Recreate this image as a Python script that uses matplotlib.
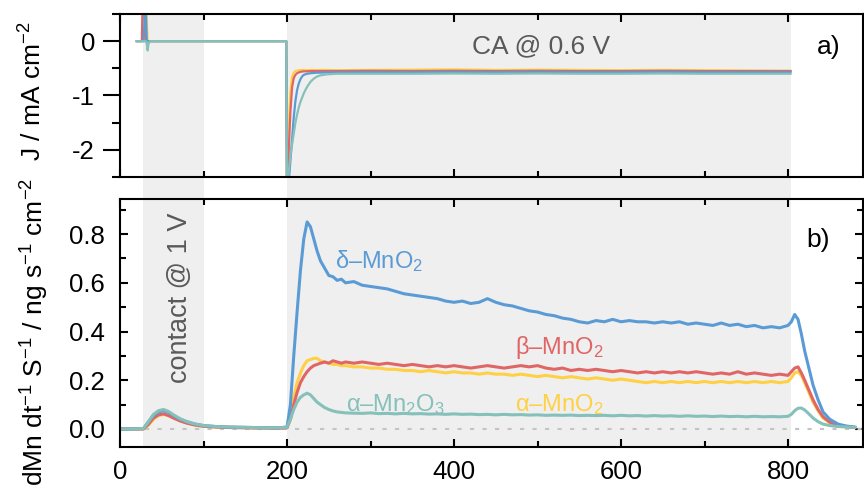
import numpy as np
import matplotlib
matplotlib.use("Agg")
import matplotlib.pyplot as plt
from matplotlib.ticker import MultipleLocator

plt.rcParams['font.family'] = ['Liberation Sans', 'DejaVu Sans']
plt.rcParams['mathtext.fontset'] = 'custom'
plt.rcParams['mathtext.rm'] = 'Liberation Sans'
plt.rcParams['mathtext.it'] = 'Liberation Sans:italic'
plt.rcParams['axes.unicode_minus'] = False

c_delta = '#5b9bd5'
c_beta = '#e06666'
c_alpha = '#ffd044'
c_mn2o3 = '#85c0ba'

# ---- a) current density, J / mA cm-2
t_j = [20, 26, 28, 29, 30, 31, 32, 33, 34, 36, 60, 100, 150, 199, 200,
       202, 204, 206, 208, 210, 212, 214, 216, 218, 220, 224, 228, 232, 236, 240,
       248, 260, 300, 350, 400, 450, 500, 550, 600, 650, 700, 750, 803]
j_alpha = [0, 0, 0, 0, 0.2, 1.2, 0.4, 0, 0, 0, 0, 0, 0, 0, -3.0,
           -1.6, -0.9, -0.66, -0.58, -0.55, -0.54, -0.535, -0.535, -0.53, -0.53, -0.535, -0.53, -0.53, -0.535, -0.53,
           -0.53, -0.535, -0.53, -0.525, -0.52, -0.53, -0.525, -0.53, -0.535, -0.53, -0.535, -0.54, -0.545]
j_beta = [0, 0, 1.5, 0.8, 0.1, 0, 0, 0, 0, 0, 0, 0, 0, 0, -3.0,
          -2.0, -1.3, -0.85, -0.68, -0.62, -0.59, -0.575, -0.565, -0.56, -0.555, -0.555, -0.55, -0.55, -0.55, -0.55,
          -0.55, -0.55, -0.545, -0.55, -0.545, -0.55, -0.545, -0.55, -0.55, -0.545, -0.55, -0.55, -0.55]
j_delta = [0, 0, 0, 0.3, 1.5, 0.5, 0, 0, 0, 0, 0, 0, 0, 0, -3.0,
           -2.6, -2.2, -1.8, -1.4, -1.1, -0.9, -0.78, -0.7, -0.65, -0.62, -0.6, -0.59, -0.585, -0.58, -0.58,
           -0.575, -0.575, -0.57, -0.57, -0.565, -0.57, -0.565, -0.57, -0.57, -0.565, -0.57, -0.57, -0.57]
j_mn2o3 = [0, 0, 0, 0, 0, 0, -0.05, -0.17, -0.05, 0, 0, 0, 0, 0, -3.0,
           -2.4, -2.1, -1.9, -1.7, -1.5, -1.35, -1.22, -1.12, -1.04, -0.96, -0.84, -0.75, -0.69, -0.65, -0.63,
           -0.61, -0.6, -0.6, -0.6, -0.595, -0.6, -0.595, -0.6, -0.6, -0.595, -0.6, -0.6, -0.6]

# ---- b) Mn dissolution rate
t_b = ([0, 15, 28, 34, 40, 46, 52, 58, 64, 72, 80, 90, 100, 115, 130, 145, 160, 175, 190, 200,
        204, 208, 212, 216, 220, 224, 228, 232, 236, 240, 245, 250, 255, 260, 265]
       + list(range(270, 801, 10))
       + [804, 808, 812, 816, 820, 825, 830, 836, 842, 850, 860, 870, 880])

m_delta = [0.0, 0.0, 0.002, 0.03, 0.055, 0.07, 0.075, 0.068, 0.055, 0.04, 0.03, 0.02, 0.014, 0.01, 0.008, 0.007, 0.006, 0.005, 0.005, 0.008,
           0.1, 0.3, 0.48, 0.65, 0.78, 0.85, 0.83, 0.78, 0.73, 0.69, 0.66, 0.63, 0.625, 0.61, 0.615,
           0.6, 0.605, 0.59, 0.585, 0.58, 0.575, 0.565, 0.555, 0.55, 0.545,
           0.54, 0.535, 0.525, 0.52, 0.525, 0.515, 0.52, 0.535, 0.52, 0.51,
           0.505, 0.495, 0.485, 0.48, 0.47, 0.465, 0.455, 0.45, 0.44, 0.435,
           0.445, 0.44, 0.45, 0.44, 0.445, 0.44, 0.44, 0.435, 0.44, 0.435,
           0.44, 0.43, 0.435, 0.43, 0.425, 0.435, 0.425, 0.43, 0.42, 0.425,
           0.415, 0.42, 0.415, 0.425,
           0.44, 0.47, 0.45, 0.39, 0.32, 0.25, 0.18, 0.12, 0.07, 0.04, 0.02, 0.012, 0.008]
m_beta = [0.0, 0.0, 0.0, 0.02, 0.045, 0.058, 0.062, 0.055, 0.045, 0.033, 0.024, 0.016, 0.011, 0.008, 0.006, 0.005, 0.004, 0.004, 0.003, 0.005,
          0.04, 0.1, 0.15, 0.19, 0.215, 0.235, 0.25, 0.26, 0.265, 0.27, 0.275, 0.27, 0.28, 0.275, 0.27,
          0.275, 0.27, 0.275, 0.27, 0.265, 0.27, 0.265, 0.26, 0.265, 0.26,
          0.255, 0.26, 0.255, 0.26, 0.255, 0.25, 0.255, 0.26, 0.255, 0.25,
          0.255, 0.26, 0.255, 0.26, 0.25, 0.245, 0.25, 0.24, 0.245, 0.24,
          0.245, 0.24, 0.235, 0.24, 0.235, 0.23, 0.235, 0.23, 0.235, 0.23,
          0.235, 0.23, 0.235, 0.23, 0.225, 0.23, 0.225, 0.235, 0.225, 0.23,
          0.225, 0.22, 0.225, 0.22,
          0.235, 0.25, 0.255, 0.23, 0.2, 0.16, 0.12, 0.08, 0.05, 0.028, 0.015, 0.01, 0.006]
m_alpha = [0.0, 0.0, 0.0, 0.015, 0.04, 0.055, 0.06, 0.055, 0.045, 0.033, 0.024, 0.016, 0.011, 0.008, 0.007, 0.006, 0.005, 0.005, 0.004, 0.006,
           0.06, 0.13, 0.19, 0.23, 0.26, 0.28, 0.285, 0.29, 0.29, 0.28, 0.275, 0.27, 0.265, 0.265, 0.26,
           0.26, 0.255, 0.255, 0.25, 0.25, 0.245, 0.245, 0.24, 0.24, 0.235,
           0.24, 0.235, 0.23, 0.235, 0.23, 0.23, 0.225, 0.23, 0.225, 0.225,
           0.22, 0.225, 0.22, 0.215, 0.22, 0.215, 0.21, 0.215, 0.21, 0.205,
           0.21, 0.205, 0.2, 0.205, 0.2, 0.195, 0.19, 0.195, 0.19, 0.195,
           0.19, 0.195, 0.19, 0.195, 0.19, 0.195, 0.19, 0.195, 0.19, 0.195,
           0.19, 0.195, 0.19, 0.195,
           0.21, 0.23, 0.235, 0.22, 0.19, 0.15, 0.11, 0.075, 0.045, 0.025, 0.014, 0.009, 0.006]
m_mn2o3 = [0.0, 0.0, 0.002, 0.03, 0.06, 0.075, 0.08, 0.072, 0.058, 0.042, 0.03, 0.02, 0.014, 0.01, 0.008, 0.007, 0.006, 0.005, 0.005, 0.007,
           0.04, 0.08, 0.11, 0.13, 0.14, 0.147, 0.14, 0.125, 0.11, 0.1, 0.088, 0.08, 0.074, 0.07, 0.068,
           0.066, 0.065, 0.064, 0.066, 0.063, 0.064, 0.062, 0.064, 0.062, 0.063,
           0.061, 0.062, 0.06, 0.062, 0.06, 0.061, 0.059, 0.06, 0.058, 0.06,
           0.058, 0.059, 0.057, 0.058, 0.056, 0.057, 0.056, 0.057, 0.055, 0.056,
           0.055, 0.056, 0.054, 0.056, 0.054, 0.055, 0.053, 0.055, 0.053, 0.054,
           0.052, 0.054, 0.052, 0.053, 0.051, 0.053, 0.051, 0.052, 0.05, 0.052,
           0.05, 0.051, 0.05, 0.052,
           0.06, 0.075, 0.085, 0.086, 0.078, 0.062, 0.045, 0.03, 0.02, 0.014, 0.01, 0.008, 0.006]

shade_spans = [(28, 100), (200, 803)]

fig = plt.figure(figsize=(8.64, 4.98), dpi=100)
left, width = 0.139, 0.860
bg = fig.add_axes([left, 0.1024, width, 0.9719 - 0.1024], zorder=0)
bg.set_xlim(0, 890)
bg.set_ylim(0, 1)
bg.axis('off')
for a, b in shade_spans:
    bg.axvspan(a, b, color='#efefef', lw=0)

ax1 = fig.add_axes([left, 0.6446, width, 0.3273], zorder=1)
ax2 = fig.add_axes([left, 0.1024, width, 0.4980], zorder=1)

for ax in (ax1, ax2):
    ax.patch.set_alpha(0)
    ax.set_xlim(0, 890)
    ax.xaxis.set_major_locator(MultipleLocator(200))
    ax.xaxis.set_minor_locator(MultipleLocator(100))
    for s in ax.spines.values():
        s.set_linewidth(1.5)
    ax.tick_params(which='both', direction='in', top=True, right=True,
                   width=1.5, labelsize=18.5)
    ax.tick_params(which='major', length=6)
    ax.tick_params(which='minor', length=4)

lw = 1.6
ax1.plot(t_j, j_alpha, color=c_alpha, lw=lw)
ax1.plot(t_j, j_beta, color=c_beta, lw=lw)
ax1.plot(t_j, j_delta, color=c_delta, lw=lw)
ax1.plot(t_j, j_mn2o3, color=c_mn2o3, lw=lw)
ax1.set_ylim(-2.5, 0.5)
ax1.yaxis.set_major_locator(MultipleLocator(1))
ax1.yaxis.set_minor_locator(MultipleLocator(0.5))
ax1.tick_params(axis='x', labelbottom=False)
ax1.tick_params(axis='y', which='major', left=True, direction='out', length=12, pad=6)
ax1.tick_params(axis='y', which='minor', direction='out', length=6)
ax1.text(504, -0.09, 'CA @ 0.6 V', color='#595959', fontsize=19, ha='center', va='center')
ax1.text(834, -0.1, 'a)', fontsize=19, ha='left', va='center')

ax2.axhline(0, color='#c4c4c4', lw=1.5, ls=(0, (2, 4)))
lw = 2.2
ax2.plot(t_b, m_alpha, color=c_alpha, lw=lw)
ax2.plot(t_b, m_beta, color=c_beta, lw=lw)
ax2.plot(t_b, m_delta, color=c_delta, lw=lw)
ax2.plot(t_b, m_mn2o3, color=c_mn2o3, lw=lw)
ax2.set_ylim(-0.074, 0.944)
ax2.yaxis.set_major_locator(MultipleLocator(0.2))
ax2.yaxis.set_minor_locator(MultipleLocator(0.1))
ax2.yaxis.set_major_formatter(matplotlib.ticker.FormatStrFormatter('%.1f'))
ax2.tick_params(axis='y', pad=11)
ax2.tick_params(axis='x', pad=9)

ax2.text(257, 0.69, 'δ–MnO$_\\mathregular{2}$', color=c_delta, fontsize=17, va='center')
ax2.text(473, 0.335, 'β–MnO$_\\mathregular{2}$', color=c_beta, fontsize=17, va='center')
ax2.text(270, 0.1, 'α–Mn$_\\mathregular{2}$O$_\\mathregular{3}$', color=c_mn2o3, fontsize=17, va='center')
ax2.text(473, 0.1, 'α–MnO$_\\mathregular{2}$', color=c_alpha, fontsize=17, va='center')
ax2.text(72, 0.54, 'contact @ 1 V', color='#595959', fontsize=19.5, rotation=90,
         ha='center', va='center')
ax2.text(822, 0.775, 'b)', fontsize=19, ha='left', va='center')

fig.text(0.022, 0.817, 'J / mA cm$^{\\mathregular{-2}}$', rotation=90, fontsize=19,
         ha='left', va='center')
fig.text(0.022, 0.643, 'dMn dt$^{\\mathregular{-1}}$ S$^{\\mathregular{-1}}$ / ng s$^{\\mathregular{-1}}$ cm$^{\\mathregular{-2}}$',
         rotation=90, fontsize=19, ha='left', va='top')

fig.savefig('out.png', dpi=100)
